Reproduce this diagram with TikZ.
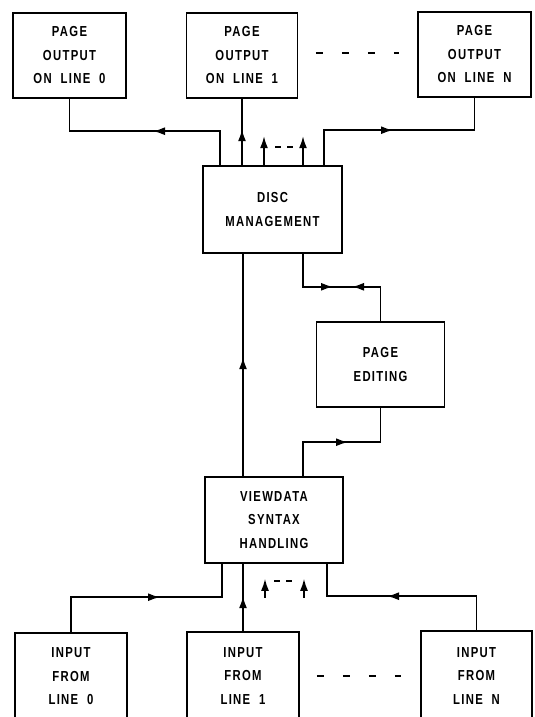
\documentclass[tikz,border=0pt]{standalone}
\usepackage{fontspec}
\newfontfamily\lettering[FakeStretch=0.78,LetterSpace=9,WordSpace=2]{Liberation Sans}
\usetikzlibrary{arrows.meta,decorations.markings}
\tikzset{
	box/.style={draw,line width=1.6pt,inner sep=0pt,align=center,
		font={\lettering\bfseries\fontsize{14.5}{23.5}\selectfont}},
	head/.tip={Latex[length=12pt,width=8pt]},
	tip/.style={postaction={decorate,decoration={markings,
		mark=at position #1 with {\arrow{head}}}}},
	tipback/.style={postaction={decorate,decoration={markings,
		mark=at position #1 with {\arrowreversed{head}}}}},
	wire/.style={line width=1.6pt},
	dots/.style={line width=1.6pt,dash pattern=on 7pt off 19pt}
}
\begin{document}
\begin{tikzpicture}[x=1pt,y=-1pt]
	\useasboundingbox (0,0) rectangle (535,717);
	\clip (0,0) rectangle (535,717);
	%outputs
	\node[box,minimum width=113pt,minimum height=85pt] (out0) at (69.5,55.5) {PAGE\\OUTPUT\\ON LINE 0};
	\node[box,minimum width=111pt,minimum height=85pt] (out1) at (242,55.5) {PAGE\\OUTPUT\\ON LINE 1};
	\node[box,minimum width=113pt,minimum height=85pt] (outN) at (474.5,54.5) {PAGE\\OUTPUT\\ON LINE N};
	\draw[dots] ([xshift=17.5pt,yshift=2.5pt]out1.east) -- ([xshift=-18pt,yshift=1.5pt]outN.west);
	%middle
	\node[box,minimum width=139pt,minimum height=87pt] (disc) at (272.5,209.5) {DISC\\MANAGEMENT};
	\node[box,minimum width=128pt,minimum height=85pt] (edit) at (380.5,364.5) {PAGE\\EDITING};
	\node[box,minimum width=138pt,minimum height=86pt] (view) at (274,520) {VIEWDATA\\SYNTAX\\HANDLING};
	%inputs
	\node[box,minimum width=112pt,minimum height=87pt] (in0) at (71,676.5) {INPUT\\FROM\\LINE 0};
	\node[box,minimum width=112pt,minimum height=88pt] (in1) at (243,676) {INPUT\\FROM\\LINE 1};
	\node[box,minimum width=111pt,minimum height=90pt] (inN) at (476.5,676) {INPUT\\FROM\\LINE N};
	\draw[dots] ([xshift=17pt]in1.east) -- ([xshift=-19pt]inN.west);
	%disc to outputs
	\draw[wire,tip=101pt] ([xshift=-52.5pt]disc.north) -- ++(0,-34) -| (out0.south);
	\draw[wire,tip=36pt] (disc.north -| out1.south) -- (out1.south);
	\draw[wire,-head] ([xshift=-8.5pt]disc.north) -- ++(0,-29);
	\draw[wire,-head] ([xshift=30.5pt]disc.north) -- ++(0,-29);
	\draw[wire,dash pattern=on 6pt off 6pt] ([xshift=2.5pt,yshift=18pt]disc.north) -- ([xshift=20.5pt,yshift=18pt]disc.north);
	\draw[wire,tip=104pt] ([xshift=51.5pt]disc.north) -- ++(0,-35) -| (outN.south);
	%disc and editing
	\draw[wire,tip=63pt,tipback=82pt] ([xshift=30.5pt]disc.south) -- ++(0,33) -| (edit.north);
	\draw[wire,tip=79pt] ([xshift=29pt]view.north) -- ++(0,-34) -| (edit.south);
	\draw[wire,tip=119pt] ([xshift=-31pt]view.north) -- ([xshift=-31pt]view.north |- disc.south);
	%inputs to viewdata
	\draw[wire,tip=124pt] (in0.north) -- ++(0,-35) -| ([xshift=-52pt]view.south);
	\draw[wire,tip=35pt] (in1.north) -- (in1.north |- view.south);
	\draw[wire,tip=123.5pt] (inN.north) -- ++(0,-34) -| ([xshift=53pt]view.south);
	\draw[wire,-head] ([xshift=-9pt,yshift=-34pt]view.south) -- ([xshift=-9pt,yshift=-15pt]view.south);
	\draw[wire,-head] ([xshift=30pt,yshift=-34pt]view.south) -- ([xshift=30pt,yshift=-15pt]view.south);
	\draw[wire,dash pattern=on 6pt off 6pt] ([xshift=0pt,yshift=-17pt]view.south) -- ([xshift=20pt,yshift=-17pt]view.south);
\end{tikzpicture}
\end{document}
